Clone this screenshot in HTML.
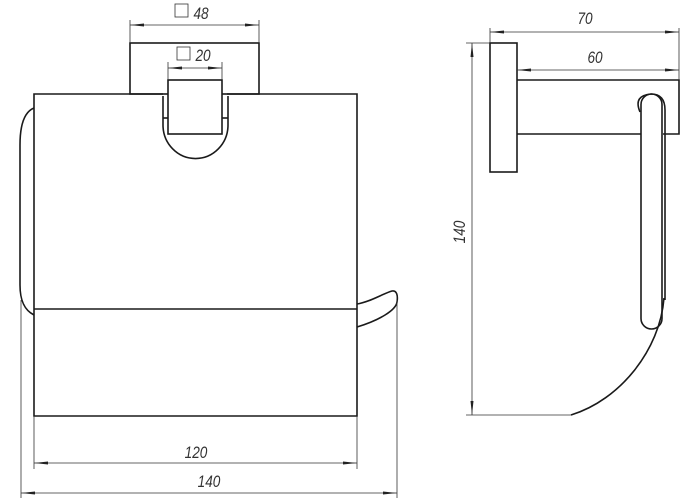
<!DOCTYPE html>
<html><head><meta charset="utf-8"><style>html,body{margin:0;padding:0;background:#fff}svg{display:block}</style></head>
<body>
<svg width="700" height="500" viewBox="0 0 700 500" xmlns="http://www.w3.org/2000/svg">
<defs>
<marker id="a" viewBox="0 0 14 4" refX="14" refY="2" markerWidth="14" markerHeight="4" orient="auto-start-reverse" markerUnits="userSpaceOnUse"><path d="M0,0.5 L14,2 L0,3.5 Z" fill="#222"/></marker>
</defs>
<g fill="none" stroke="#1a1a1a" stroke-width="1.6">
<rect x="130" y="43" width="129" height="51"/>
<path d="M163,94 H34 V416 H357 V94 H227"/>
<line x1="34" y1="309" x2="357" y2="309"/>
<rect x="168" y="80" width="54" height="54" fill="#fff"/>
<path d="M163,96 V125 A32,33 0 0 0 228,125 V96"/>
<line x1="163" y1="118" x2="168" y2="118"/><line x1="222" y1="118" x2="228" y2="118"/>
<path d="M34,108 C24,112 20,125 20,145 V285 C20,300 24,310 34,315"/>
<path d="M357,304 C370,302 382,294 392,291 C397,290 398,296 397,302 C396,310 380,320 357,327"/>
<rect x="490" y="43" width="27" height="129"/>
<path d="M517,80 H679 V134 H663 M641,134 H517"/>
<rect x="641" y="94" width="21" height="235" rx="10.5" fill="#fff"/>
<path d="M640,112 C635,100 640,95 651,94 C660,94 665,99 665,110 V300"/>
<path d="M664,298 C660,350 620,400 571,415"/>
</g>
<g stroke="#333" stroke-width="0.8" fill="none">
<line x1="130" y1="20" x2="130" y2="43"/><line x1="259" y1="20" x2="259" y2="43"/>
<line x1="130" y1="25" x2="259" y2="25" marker-start="url(#a)" marker-end="url(#a)"/>
<line x1="168" y1="62" x2="168" y2="80"/><line x1="222" y1="62" x2="222" y2="80"/>
<line x1="168" y1="68" x2="222" y2="68" marker-start="url(#a)" marker-end="url(#a)"/>
<line x1="34" y1="416" x2="34" y2="469"/><line x1="357" y1="416" x2="357" y2="469"/>
<line x1="34" y1="463" x2="357" y2="463" marker-start="url(#a)" marker-end="url(#a)"/>
<line x1="21" y1="300" x2="21" y2="498"/><line x1="397" y1="300" x2="397" y2="498"/>
<line x1="21" y1="493" x2="397" y2="493" marker-start="url(#a)" marker-end="url(#a)"/>
<line x1="490" y1="28" x2="490" y2="43"/><line x1="679" y1="28" x2="679" y2="80"/>
<line x1="490" y1="32" x2="679" y2="32" marker-start="url(#a)" marker-end="url(#a)"/>
<line x1="517" y1="70" x2="679" y2="70" marker-start="url(#a)" marker-end="url(#a)"/>
<line x1="466" y1="43" x2="490" y2="43"/><line x1="466" y1="415" x2="571" y2="415"/>
<line x1="472" y1="43" x2="472" y2="415" marker-start="url(#a)" marker-end="url(#a)"/>
</g>
<g font-family="Liberation Sans, sans-serif" font-size="17" font-style="italic" fill="#333" text-anchor="middle">
<rect x="175" y="4" width="13" height="13" fill="none" stroke="#333" stroke-width="0.8"/>
<text x="0" y="0" transform="translate(201,19) scale(0.8,1)">48</text>
<rect x="177" y="47" width="13" height="13" fill="none" stroke="#333" stroke-width="0.8"/>
<text x="0" y="0" transform="translate(203,61) scale(0.8,1)">20</text>
<text x="0" y="0" transform="translate(196,458) scale(0.8,1)">120</text>
<text x="0" y="0" transform="translate(209,487) scale(0.8,1)">140</text>
<text x="0" y="0" transform="translate(585,24) scale(0.8,1)">70</text>
<text x="0" y="0" transform="translate(595,63) scale(0.8,1)">60</text>
<text x="0" y="0" transform="translate(465,232) rotate(-90) scale(0.8,1)">140</text>
</g>
</svg>
</body></html>
